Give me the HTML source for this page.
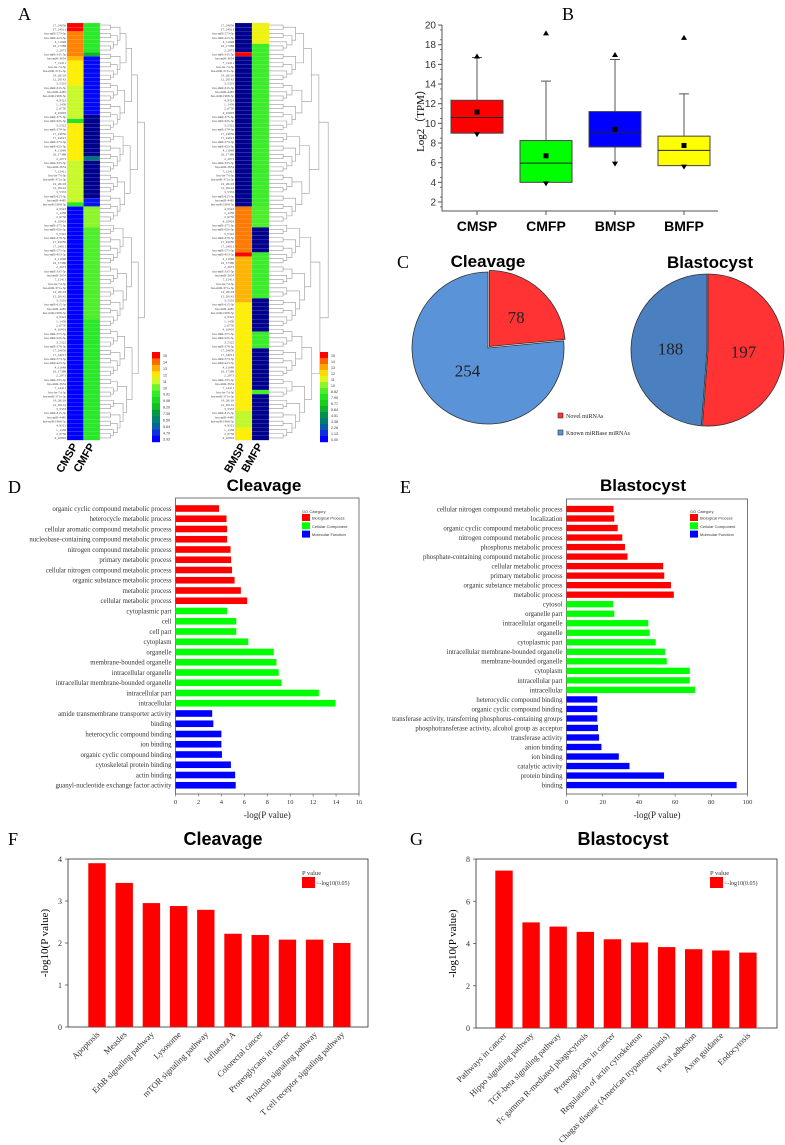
<!DOCTYPE html>
<html><head><meta charset="utf-8"><style>
html,body{margin:0;padding:0;background:#fff;}
svg{display:block;}
.serif{font-family:"Liberation Serif",serif;}
.sans{font-family:"Liberation Sans",sans-serif;}
</style></head><body>
<svg id="fig" width="785" height="1145" viewBox="0 0 785 1145" xmlns="http://www.w3.org/2000/svg">
<rect x="0" y="0" width="785" height="1145" fill="#fff"/>
<text x="18" y="20" class="serif" font-size="18">A</text>
<text x="562" y="20" class="serif" font-size="18">B</text>
<text x="397" y="268" class="serif" font-size="18">C</text>
<text x="8" y="493" class="serif" font-size="18">D</text>
<text x="400" y="493" class="serif" font-size="18">E</text>
<text x="8" y="845" class="serif" font-size="18">F</text>
<text x="410" y="845" class="serif" font-size="18">G</text>
</svg>
<script>
// ---------- data ----------
// Heatmap runs: [value, count]; value -1 = navy
const hmLeftCol1 = [[15,2],[13.5,6],[12.5,1],[11.3,6],[10.3,8],[7.5,1],[11.3,9],[10.3,10],[7.8,1],[0,56]];
const hmLeftCol2 = [[8,7],[5.5,1],[0.2,14],[-1,10],[3,1],[-1,9],[0.5,2],[9.6,5],[8.6,22],[7.9,29]];
const hmRightCol1 = [[-1,7],[15,1],[-1,36],[13.6,11],[15,1],[12.6,11],[11.3,26],[10.2,4],[11.3,3]];
const hmRightCol2 = [[11,5],[8.3,39],[8.6,5],[-1,6],[8.3,11],[-1,8],[8.3,4],[-1,10],[8.5,1],[-1,11]];
const legLeftLabels = ['15','14','13','12','11','10','9.91','9.06','8.20','7.35','6.50','5.64','4.79','3.93'];
const legRightLabels = ['15','14','13','12','11','10','8.82','7.90','6.77','5.64','4.51','3.38','2.26','1.13','0.00'];
const rowNames = ['17_24056','17_24013','hsa-miR-573-3p','hsa-miR-423-5p','4_11048','16_17388','2_2973','hsa-miR-335-5p','hsa-miR-3654','7_12411','hsa-let-7d-3p','hsa-miR-371a-3p','19_26118','12_20142','3_5333','hsa-miR-615-3p','hsa-miR-4485','hsa-miR-1908-5p','4_9323','1_1458','2_6750','4_10903','hsa-miR-375-3p','hsa-miR-92b-3p','3_5322','hsa-miR-378-3p'];

// Box plot
const boxCats = ['CMSP','CMFP','BMSP','BMFP'];
const boxQ1 = [9.0,4.0,7.6,5.7];
const boxMed = [10.6,5.95,9.1,7.25];
const boxQ3 = [12.35,8.25,11.2,8.7];
const boxMean = [11.15,6.7,9.4,7.75];
const boxWLo = [9.0,4.0,6.0,5.7];
const boxWHi = [16.7,14.3,16.5,13.0];
const boxMax = [16.8,19.15,16.95,18.7];
const boxMin = [8.9,3.9,5.9,5.6];
const boxColors = ['#ff0000','#00ff00','#0000ff','#ffff00'];
const boxTicks = [2,4,6,8,10,12,14,16,18,20];

// Pies
const pieCleavage = [78,254];
const pieBlasto = [197,188];

// GO Cleavage
const goDLabels = ['organic cyclic compound metabolic process','heterocycle metabolic process','cellular aromatic compound metabolic process','nucleobase-containing compound metabolic process','nitrogen compound metabolic process','primary metabolic process','cellular nitrogen compound metabolic process','organic substance metabolic process','metabolic process','cellular metabolic process','cytoplasmic part','cell','cell part','cytoplasm','organelle','membrane-bounded organelle','intracellular organelle','intracellular membrane-bounded organelle','intracellular part','intracellular','amide transmembrane transporter activity','binding','heterocyclic compound binding','ion binding','organic cyclic compound binding','cytoskeletal protein binding','actin binding','guanyl-nucleotide exchange factor activity'];
const goDValues = [3.8,4.45,4.5,4.5,4.8,4.85,4.93,5.15,5.7,6.25,4.5,5.3,5.3,6.35,8.57,8.8,9.0,9.25,12.5,13.95,3.2,3.3,4.0,4.0,4.05,4.83,5.2,5.25];
const goDCat = [0,0,0,0,0,0,0,0,0,0,1,1,1,1,1,1,1,1,1,1,2,2,2,2,2,2,2,2];
const goDTicks = [0,2,4,6,8,10,12,14,16];

// GO Blastocyst
const goELabels = ['cellular nitrogen compound metabolic process','localization','organic cyclic compound metabolic process','nitrogen compound metabolic process','phosphorus metabolic process','phosphate-containing compound metabolic process','cellular metabolic process','primary metabolic process','organic substance metabolic process','metabolic process','cytosol','organelle part','intracellular organelle','organelle','cytoplasmic part','intracellular membrane-bounded organelle','membrane-bounded organelle','cytoplasm','intracellular part','intracellular','heterocyclic compound binding','organic cyclic compound binding','transferase activity, transferring phosphorus-containing groups','phosphotransferase activity, alcohol group as acceptor','transferase activity','anion binding','ion binding','catalytic activity','protein binding','binding'];
const goEValues = [26,26.4,28.3,30.8,32.3,33.7,53.4,54,57.7,59.3,25.8,26.4,45.2,46,49.3,54.4,55.4,68.1,68.1,71,17,17,17,17.4,18,19.3,28.9,34.8,53.9,94];
const goECat = [0,0,0,0,0,0,0,0,0,0,1,1,1,1,1,1,1,1,1,1,2,2,2,2,2,2,2,2,2,2];
const goETicks = [0,20,40,60,80,100];
const goCatNames = ['Biological Process','Cellular Component','Molecular Function'];
const goCatColors = ['#ff0000','#00ff00','#0000ff'];

// KEGG
const keggFLabels = ['Apoptosis','Measles','ErbB signaling pathway','Lysosome','mTOR signaling pathway','Influenza A','Colorectal cancer','Proteoglycans in cancer','Prolactin signaling pathway','T cell receptor signaling pathway'];
const keggFValues = [3.9,3.43,2.95,2.88,2.79,2.22,2.19,2.08,2.08,2.0];
const keggFTicks = [0,1,2,3,4];
const keggGLabels = ['Pathways in cancer','Hippo signaling pathway','TGF-beta signaling pathway','Fc gamma R-mediated phagocytosis','Proteoglycans in cancer','Regulation of actin cytoskeleton','Chagas disease (American trypanosomiasis)','Focal adhesion','Axon guidance','Endocytosis'];
const keggGValues = [7.45,5.0,4.8,4.55,4.2,4.05,3.83,3.73,3.67,3.57];
const keggGTicks = [0,2,4,6,8];

// ---------- helpers ----------
const NS='http://www.w3.org/2000/svg';
const svg=document.getElementById('fig');
function mk(tag,attrs,parent){const e=document.createElementNS(NS,tag);for(const k in attrs)e.setAttribute(k,attrs[k]);(parent||svg).appendChild(e);return e;}
function txt(x,y,s,attrs,parent){const e=mk('text',Object.assign({x:x,y:y},attrs),parent);e.textContent=s;return e;}
function heatColor(v){
  if(v<0)return '#00008e';
  const stops=[[0,[0,0,255]],[1.5,[20,60,220]],[2.5,[0,110,140]],[4.5,[0,150,70]],[6,[20,200,20]],[8,[40,235,40]],[9.5,[130,245,40]],[10.3,[200,250,40]],[11.3,[255,240,0]],[12.5,[255,185,0]],[13.5,[255,130,0]],[14.2,[255,80,0]],[15,[255,0,0]]];
  for(let i=1;i<stops.length;i++){if(v<=stops[i][0]){const a=stops[i-1],b=stops[i];const t=(v-a[0])/(b[0]-a[0]);const c=a[1].map((x,j)=>Math.round(x+(b[1][j]-x)*t));return 'rgb('+c.join(',')+')';}}
  return 'rgb(255,0,0)';
}

// ---------- Panel A heatmaps ----------
const HM_TOP=23, ROW_H=4.17;
function drawHeat(name,colX,runs,colW){
  const g=mk('g',{});
  
  
  let r=0;
  runs.forEach(([v,n])=>{for(let k=0;k<n;k++){
    const c=mk('rect',{x:colX,y:HM_TOP+r*ROW_H,width:colW,height:ROW_H+0.2,fill:heatColor(v),stroke:'#ddd','stroke-width':0.15},g);
    
    
    r++;}});
}
function drawDendro(name,x0,width,n){
  const g=mk('g',{stroke:'#999','stroke-width':0.6,fill:'none'});
  
  
  function rec(a,b,depth){
    if(b-a<=1)return {y:HM_TOP+(a+0.5)*ROW_H,x:x0};
    const m=Math.floor((a+b)/2+((a*7+b*3)%5-2)*(b-a>6?1:0));
    const mm=Math.min(Math.max(m,a+1),b-1);
    const L=rec(a,mm,depth+1),R=rec(mm,b,depth+1);
    const h=x0+width*Math.min(1,Math.log2(b-a+1)/7.2);
    mk('path',{d:`M${L.x},${L.y}H${h}V${R.y}H${R.x}`},g);
    return {y:(L.y+R.y)/2,x:h};
  }
  rec(0,n,0);
}
function drawRowLabels(xRight,n){
  const g=mk('g',{class:'serif','font-size':3.3,fill:'#444','text-anchor':'end'});
  
  
  for(let i=0;i<n;i++)txt(xRight,HM_TOP+(i+0.8)*ROW_H,rowNames[i%rowNames.length],{},g);
}
function drawLegendBar(name,x,labels){
  const g=mk('g',{});
  
  
  const h=(442-352)/labels.length;
  labels.forEach((l,i)=>{
    const v=15-i*(15/(labels.length-1));
    mk('rect',{x:x,y:352+i*h,width:8,height:h+0.2,fill:heatColor(v)},g);
    txt(x+11,352+i*h+h*0.8,l,{class:'sans','font-size':3.6,fill:'#333'},g);
  });
}
drawRowLabels(66,100);
drawHeat('heatmap-cmsp-column',67,hmLeftCol1,16.5);
drawHeat('heatmap-cmfp-column',83.5,hmLeftCol2,16.5);
drawDendro('left-dendrogram',100,48,100);
drawLegendBar('left-color-legend',152,legLeftLabels);
drawRowLabels(234,100);
drawHeat('heatmap-bmsp-column',235,hmRightCol1,17);
drawHeat('heatmap-bmfp-column',252,hmRightCol2,17);
drawDendro('right-dendrogram',269,64,100);
drawLegendBar('right-color-legend',320,legRightLabels);
[['CMSP',78],['CMFP',95],['BMSP',246],['BMFP',263]].forEach(([s,x])=>{
  const t=txt(x,446,s,{class:'sans','font-size':11,'font-weight':'bold','text-anchor':'end',transform:`rotate(-60 ${x} 446)`});
  
  
});

// ---------- Panel B box plot ----------
const bx0=442,bx1=718,by0=25,by1=211;
function yB(v){return 202-(v-2)*9.83;}
function xB(i){return bx0+35+i*69;}
const gB=mk('g',{});


mk('path',{d:`M${bx0},${by0}V${by1}H${bx1}`,stroke:'#555','stroke-width':1,fill:'none'},gB);
for(let v=1.5;v<=20;v+=1){mk('line',{x1:bx0,x2:bx0-(Math.round(v)%2===0&&v%1===0?4:2),y1:yB(v),y2:yB(v),stroke:'#555','stroke-width':0.8},gB);}
boxTicks.forEach(t=>{
  mk('line',{x1:bx0,x2:bx0-4,y1:yB(t),y2:yB(t),stroke:'#555'},gB);
  txt(bx0-6,yB(t)+3.5,String(t),{class:'sans','font-size':10,'text-anchor':'end',fill:'#333'},gB);
});
const yt=txt(424,118,'Log2（TPM）',{class:'serif','font-size':11,'text-anchor':'middle',transform:'rotate(-90 424 118)'},gB);


boxCats.forEach((c,i)=>{
  const cx=xB(i),w=52;
  mk('line',{x1:cx,x2:cx,y1:by1,y2:by1+4,stroke:'#555'},gB);
  const lab=txt(cx,231,c,{class:'sans','font-size':14,'font-weight':'bold','text-anchor':'middle'},gB);
  
  
  mk('line',{x1:cx,x2:cx,y1:yB(boxQ3[i]),y2:yB(boxWHi[i]),stroke:'#555'},gB);
  mk('line',{x1:cx-5,x2:cx+5,y1:yB(boxWHi[i]),y2:yB(boxWHi[i]),stroke:'#555'},gB);
  mk('line',{x1:cx,x2:cx,y1:yB(boxQ1[i]),y2:yB(boxWLo[i]),stroke:'#555'},gB);
  const b=mk('rect',{x:cx-w/2,y:yB(boxQ3[i]),width:w,height:yB(boxQ1[i])-yB(boxQ3[i]),fill:boxColors[i],stroke:'#444','stroke-width':1},gB);
  
  
  mk('line',{x1:cx-w/2,x2:cx+w/2,y1:yB(boxMed[i]),y2:yB(boxMed[i]),stroke:'#222','stroke-width':1},gB);
  mk('rect',{x:cx-2.5,y:yB(boxMean[i])-2.5,width:5,height:5,fill:'#000'},gB);
  const ym=yB(boxMax[i]);mk('path',{d:`M${cx-3},${ym+2}L${cx+3},${ym+2}L${cx},${ym-3}Z`,fill:'#000'},gB);
  const yn=yB(boxMin[i]);mk('path',{d:`M${cx-3},${yn-2}L${cx+3},${yn-2}L${cx},${yn+3}Z`,fill:'#000'},gB);
});

// ---------- Panel C pies ----------
function drawPie(name,cx,cy,r,vals,colors,labelPos,explode){
  const g=mk('g',{});
  
  
  const tot=vals.reduce((a,b)=>a+b,0);let a0=0;
  vals.forEach((v,i)=>{
    const a1=a0+v/tot*2*Math.PI;const mid=(a0+a1)/2;
    const ox=i===0?explode*Math.sin(mid):0,oy=i===0?-explode*Math.cos(mid):0;
    const x0=cx+ox+r*Math.sin(a0),y0=cy+oy-r*Math.cos(a0),x1=cx+ox+r*Math.sin(a1),y1=cy+oy-r*Math.cos(a1);
    const p=mk('path',{d:`M${cx+ox},${cy+oy}L${x0},${y0}A${r},${r} 0 ${a1-a0>Math.PI?1:0} 1 ${x1},${y1}Z`,fill:colors[i],stroke:'#333','stroke-width':0.8},g);
    
    
    const lx=cx+labelPos[i]*r*Math.sin(mid),ly=cy-labelPos[i]*r*Math.cos(mid);
    txt(lx,ly+6,String(v),{class:'serif','font-size':17,'text-anchor':'middle',fill:'#222'},g);
    a0=a1;
  });
}
let t1=txt(488,267,'Cleavage',{class:'sans','font-size':17,'font-weight':'bold','text-anchor':'middle'});


let t2=txt(710,268,'Blastocyst',{class:'sans','font-size':17,'font-weight':'bold','text-anchor':'middle'});


drawPie('pie-cleavage',488,348,76,pieCleavage,['#ff3333','#5b93d8'],[0.55,0.4],2);
drawPie('pie-blastocyst',707,350,76,pieBlasto,['#ff3333','#4a7fc0'],[0.48,0.48],1);
const gL=mk('g',{});


mk('rect',{x:558,y:413,width:5,height:5,fill:'#ff3333',stroke:'#333','stroke-width':0.6},gL);
txt(566,418,'Novel miRNAs',{class:'serif','font-size':6,fill:'#222'},gL);
mk('rect',{x:558,y:430,width:5,height:5,fill:'#5b93d8',stroke:'#333','stroke-width':0.6},gL);
txt(566,435,'Known miRBase miRNAs',{class:'serif','font-size':6,fill:'#222'},gL);

// ---------- GO bar charts ----------
function drawGO(name,title,titleX,x0,x1,y0,y1,maxV,ticks,labels,vals,cats,firstY,step,bh,legX){
  const g=mk('g',{});
  
  
  const xs=v=>x0+v*(x1-x0)/maxV;
  const tt=txt(titleX,491,title,{class:'sans','font-size':17,'font-weight':'bold','text-anchor':'middle'},g);
  
  
  mk('rect',{x:x0,y:y0,width:x1-x0,height:y1-y0,fill:'none',stroke:'#555','stroke-width':0.8},g);
  labels.forEach((l,i)=>{
    const yc=firstY+i*step;
    const b=mk('rect',{x:x0,y:yc-bh/2,width:xs(vals[i])-x0,height:bh,fill:goCatColors[cats[i]]},g);
    
    
    txt(x0-4,yc+2.4,l,{class:'serif','font-size':6.8,'text-anchor':'end',fill:'#333'},g);
  });
  ticks.forEach(t=>{
    mk('line',{x1:xs(t),x2:xs(t),y1:y1,y2:y1+2.5,stroke:'#555','stroke-width':0.6},g);
    txt(xs(t),y1+10,String(t),{class:'serif','font-size':6.5,'text-anchor':'middle',fill:'#333'},g);
  });
  const xt=txt((x0+x1)/2,y1+24,'-log(P value)',{class:'serif','font-size':9,'text-anchor':'middle',fill:'#222'},g);
  
  
  const lg=mk('g',{},g);
  
  
  txt(legX,513,'GO Category',{class:'sans','font-size':4,fill:'#333'},lg);
  goCatNames.forEach((n,i)=>{
    mk('rect',{x:legX,y:514+i*8.3,width:8,height:7,fill:goCatColors[i]},lg);
    txt(legX+10,519.5+i*8.3,n,{class:'sans','font-size':4,fill:'#333'},lg);
  });
}
drawGO('go-cleavage-chart','Cleavage',264,175.5,359,498,794,16,goDTicks,goDLabels,goDValues,goDCat,508.5,10.25,6.6,302);
drawGO('go-blastocyst-chart','Blastocyst',643,566.5,747.5,499,794,100,goETicks,goELabels,goEValues,goECat,509,9.52,6.3,690);

// ---------- KEGG bar charts ----------
function drawKEGG(name,title,titleX,x0,x1,y0,y1,maxV,ticks,labels,vals,firstX,step,legX){
  const g=mk('g',{});
  
  
  const ys=v=>y1-v*(y1-y0)/maxV;
  const tt=txt(titleX,845,title,{class:'sans','font-size':18,'font-weight':'bold','text-anchor':'middle'},g);
  
  
  mk('rect',{x:x0,y:y0,width:x1-x0,height:y1-y0,fill:'none',stroke:'#444','stroke-width':0.9},g);
  ticks.forEach(t=>{
    mk('line',{x1:x0,x2:x0-3,y1:ys(t),y2:ys(t),stroke:'#444','stroke-width':0.7},g);
    txt(x0-6,ys(t)+3,String(t),{class:'serif','font-size':8,'text-anchor':'end',fill:'#333'},g);
  });
  const yl=txt(x0-20,(y0+y1)/2,'-log10(P value)',{class:'serif','font-size':11,'text-anchor':'middle',transform:`rotate(-90 ${x0-20} ${(y0+y1)/2})`},g);
  
  
  labels.forEach((l,i)=>{
    const cx=firstX+i*step;
    const b=mk('rect',{x:cx-8.7,y:ys(vals[i]),width:17.4,height:y1-ys(vals[i]),fill:'#ff0000'},g);
    
    
    txt(cx+3,y1+8,l,{class:'serif','font-size':8.6,'text-anchor':'end',fill:'#333',transform:`rotate(-45 ${cx+3} ${y1+8})`},g);
  });
  const lg=mk('g',{},g);
  
  
  txt(legX,875,'P value',{class:'serif','font-size':6.5,fill:'#333'},lg);
  mk('rect',{x:legX,y:877,width:13,height:11,fill:'#ff0000'},lg);
  txt(legX+14,885,'<-log10(0.05)',{class:'serif','font-size':6,fill:'#333'},lg);
}
drawKEGG('kegg-cleavage-chart','Cleavage',223,68,368,859,1027,4,keggFTicks,keggFLabels,keggFValues,97,27.2,302);
drawKEGG('kegg-blastocyst-chart','Blastocyst',623,476,777,859,1028,8,keggGTicks,keggGLabels,keggGValues,504,27.1,710);
</script>
</body></html>
